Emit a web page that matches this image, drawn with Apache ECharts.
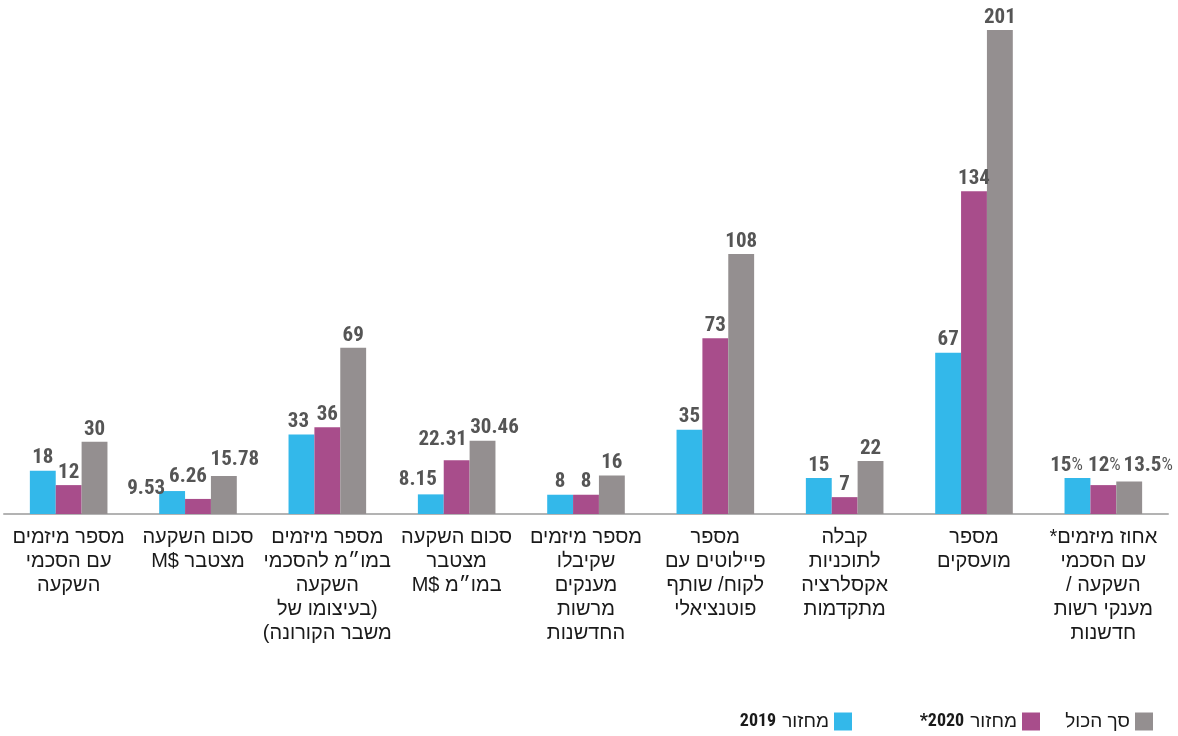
<!DOCTYPE html>
<html>
<head>
<meta charset="utf-8">
<script src="https://cdn.jsdelivr.net/npm/echarts@6/dist/echarts.min.js"></script>
<style>
html,body{margin:0;padding:0;background:#fff;}
#chart{width:1178px;height:736px;direction:rtl;}
</style>
</head>
<body>
<div id="chart" dir="rtl"></div>
<script>
const categories = [
  "מספר מיזמים\nעם הסכמי\nהשקעה",
  "סכום השקעה\nמצטבר $M",
  "מספר מיזמים\nבמו״מ להסכמי\nהשקעה\n(בעיצומו של\nמשבר הקורונה)",
  "סכום השקעה\nמצטבר\nבמו״מ $M",
  "מספר מיזמים\nשקיבלו\nמענקים\nמרשות\nהחדשנות",
  "מספר\nפיילוטים עם\nלקוח/ שותף\nפוטנציאלי",
  "קבלה\nלתוכניות\nאקסלרציה\nמתקדמות",
  "מספר\nמועסקים",
  "אחוז מיזמים*\nעם הסכמי\nהשקעה /\nמענקי רשות\nחדשנות"
];
const v2019 = [18, 9.53, 33, 8.15, 8, 35, 15, 67, 15];
const v2020 = [12, 6.26, 36, 22.31, 8, 73, 7, 134, 12];
const vTotal = [30, 15.78, 69, 30.46, 16, 108, 22, 201, 13.5];
const legendLabels = {
  "2019": "{b|2019}{t|מחזור}",
  "2020": "{a|*}{b|2020}{t|מחזור}",
  "total": "{t|סך הכול}"
};
const percentIndex = 8;

const colors = { "2019": "#33b8ea", "2020": "#a84d8b", "total": "#948f90" };
const numFont = "'Roboto Condensed', 'DejaVu Sans Condensed', sans-serif";
const txtFont = "'Liberation Sans', Arial, sans-serif";

function labelFmt(p) {
  return p.dataIndex === percentIndex ? '{v|' + p.value + '}{p|%}' : '{v|' + p.value + '}';
}
const baseLabel = {
  show: true, position: 'top', distance: 2,
  formatter: labelFmt,
  rich: {
    v: { fontFamily: numFont, fontWeight: 'bold', fontSize: 21, color: '#555555' },
    p: { fontFamily: numFont, fontWeight: 'normal', fontSize: 18, color: '#555555' }
  }
};

function mkData(arr, special) {
  return arr.map((v, i) => special && special[i] ? { value: v, label: special[i] } : v);
}

const chart = echarts.init(document.getElementById('chart'), null, { renderer: 'canvas' });
function mkLegend(name, right) {
  const numStyle = { fontFamily: numFont, fontWeight: 'bold', fontSize: 18, color: '#1a1a1a' };
  return {
    data: [name], right: right, top: 707, orient: 'horizontal', align: 'right',
    itemWidth: 18, itemHeight: 18, icon: 'rect', itemGap: 5,
    formatter: n => legendLabels[n],
    textStyle: {
      fontFamily: txtFont, fontSize: 19, color: '#1a1a1a',
      rich: {
        a: numStyle,
        b: Object.assign({}, numStyle, { padding: [0, 6, 0, 0] }),
        t: { fontFamily: txtFont, fontSize: 19, color: '#1a1a1a' }
      }
    }
  };
}
chart.setOption({
  animation: false,
  backgroundColor: '#fff',
  legend: [mkLegend("total", 20), mkLegend("2020", 133), mkLegend("2019", 321)],
  grid: { left: 4, right: 10, top: 30, bottom: 222, containLabel: false },
  xAxis: {
    type: 'category', data: categories,
    axisLine: { show: true, lineStyle: { color: '#b3b3b3', width: 2 } },
    axisTick: { show: false },
    axisLabel: {
      interval: 0, margin: 11, fontFamily: txtFont, fontSize: 20, lineHeight: 24, color: '#1a1a1a',
      align: 'center'
    }
  },
  yAxis: { type: 'value', min: 0, max: 201, show: false, splitLine: { show: false } },
  series: [
    { name: "2019", type: 'bar', barGap: '0%', barCategoryGap: '40%', itemStyle: { color: colors["2019"] },
      label: baseLabel,
      data: mkData(v2019, { 1: { offset: [-26, 10] }, 2: { offset: [-3, 0] }, 3: { offset: [-13, -2] }, 8: { offset: [-11, 0] } }) },
    { name: "2020", type: 'bar', barGap: '0%', barCategoryGap: '40%', itemStyle: { color: colors["2020"] },
      label: baseLabel,
      data: mkData(v2020, { 1: { offset: [-10, -10] }, 3: { offset: [-14, -8] }, 8: { offset: [1, -7] } }) },
    { name: "total", type: 'bar', barGap: '0%', barCategoryGap: '40%', itemStyle: { color: colors["total"] },
      label: baseLabel,
      data: mkData(vTotal, { 1: { offset: [11, -4] }, 3: { offset: [12, 0] }, 8: { offset: [19, -3] } }) }
  ]
});
</script>
</body>
</html>
